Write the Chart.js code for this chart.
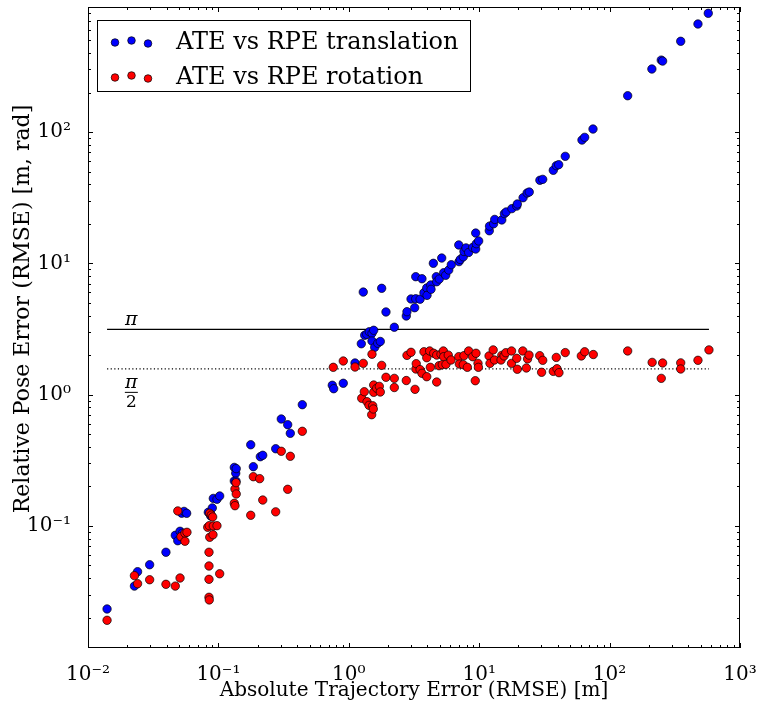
<!DOCTYPE html>
<html>
<head>
<meta charset="utf-8">
<script src="https://cdn.jsdelivr.net/npm/chart.js@4.4.1/dist/chart.umd.min.js"></script>
<style>
  html, body { margin: 0; padding: 0; background: #fff; }
</style>
</head>
<body>
<canvas id="chart" width="758" height="706"></canvas>
<script>
// ATE vs RPE (translation): x = ATE [m], y = RPE [m]
const transAte = [0.0140, 0.0227, 0.0240, 0.0297, 0.0396, 0.0467, 0.0488, 0.0508, 0.0523, 0.0528, 0.0545, 0.0571,
  0.0837, 0.0873, 0.0898, 0.0914, 0.0975, 0.1023, 0.1324, 0.1324, 0.1358, 0.1365, 0.137, 0.177, 0.1853, 0.2096,
  0.2188, 0.275, 0.3036, 0.340, 0.356, 0.440, 0.747, 0.766, 0.907, 1.116, 1.247, 1.291, 1.324, 1.371, 1.436,
  1.506, 1.506, 1.552, 1.580, 1.666, 1.744, 1.787, 1.928, 2.234, 2.76, 2.793, 3.00, 3.20, 3.26, 3.26, 3.52,
  3.64, 3.77, 3.96, 3.98, 4.25, 4.27, 4.45, 4.69, 4.72, 4.94, 5.16, 5.34, 5.53, 5.84, 6.11, 6.97, 7.00, 7.16,
  7.55, 7.64, 7.92, 8.30, 8.91, 9.40, 9.40, 9.50, 9.91, 11.95, 12.0, 12.9, 13.15, 14.9, 15.6, 16.1, 17.8, 19.4,
  19.6, 21.7, 23.3, 24.2, 29.2, 30.7, 37.0, 39.0, 40.7, 45.7, 61.4, 64.4, 74.6, 137.6, 211, 249, 255, 351, 476, 571];
const transRpe = [0.0233, 0.0348, 0.0448, 0.0506, 0.0630, 0.0848, 0.0771, 0.0910, 0.125, 0.0879, 0.129, 0.1247,
  0.127, 0.119, 0.137, 0.162, 0.1595, 0.169, 0.279, 0.220, 0.252, 0.219, 0.273, 0.415, 0.2825, 0.3365,
  0.345, 0.387, 0.652, 0.590, 0.507, 0.838, 1.178, 1.109, 1.22, 1.741, 2.44, 6.04, 2.83, 2.88, 3.01,
  2.93, 2.56, 3.09, 2.29, 2.46, 2.54, 6.45, 4.26, 3.26, 3.97, 4.28, 5.35, 4.59, 5.37, 7.91, 5.33,
  7.63, 5.97, 6.49, 5.70, 6.84, 6.34, 10.0, 7.91, 7.24, 7.59, 10.97, 8.48, 8.10, 8.89, 9.76, 13.8, 10.3, 10.7,
  11.2, 12.3, 13.1, 12.1, 13.2, 12.85, 17.0, 14.1, 14.8, 17.7, 19.2, 20.0, 21.6, 21.4, 23.9, 24.6, 26.1, 27.3,
  28.3, 31.6, 34.3, 34.9, 42.9, 43.6, 51.1, 55.4, 56.4, 65.3, 86.9, 91.1, 105.4, 189, 302, 353, 347, 491, 665, 802];

// ATE vs RPE (rotation): x = ATE [m], y = RPE [rad]
const rotAte = [0.0140, 0.0227, 0.0240, 0.0297, 0.0396, 0.0467, 0.0488, 0.0508, 0.0516, 0.0554, 0.0554, 0.0574,
  0.0828, 0.0847, 0.0847, 0.0847, 0.0847, 0.0851, 0.0851, 0.0858, 0.0858, 0.0882, 0.0904, 0.0909, 0.0914, 0.0975,
  0.1023, 0.1324, 0.134, 0.134, 0.1365, 0.137, 0.177, 0.1853, 0.2073, 0.2188, 0.275, 0.3036, 0.340, 0.356, 0.440,
  0.760, 0.907, 1.116, 1.256, 1.291, 1.315, 1.379, 1.429, 1.498, 1.506, 1.525, 1.541, 1.552, 1.552, 1.637, 1.714,
  1.744, 1.787, 1.928, 2.234, 2.234, 2.76, 2.793, 3.00, 3.22, 3.27, 3.29, 3.52, 3.64, 3.77, 3.96, 3.96, 4.17,
  4.22, 4.48, 4.72, 4.72, 4.92, 5.09, 5.21, 5.31, 5.34, 5.56, 5.79, 6.08, 6.97, 7.04, 7.55, 7.64, 8.11, 8.30,
  8.91, 9.33, 9.45, 9.79, 9.86, 11.9, 12.1, 12.8, 13.1, 14.9, 14.7, 15.5, 16.0, 17.7, 17.7, 19.4, 19.6, 21.6,
  23.0, 23.5, 24.1, 29.1, 30.1, 30.7, 37.0, 39.0, 39.5, 40.9, 45.7, 60.7, 64.4, 75.0, 137.6, 212, 249, 255,
  351, 351, 476, 578];
const rotRpe = [0.0191, 0.0418, 0.0363, 0.0389, 0.0359, 0.0348, 0.130, 0.0401, 0.0828, 0.0879, 0.0764, 0.0894,
  0.0976, 0.0630, 0.0495, 0.0392, 0.0286, 0.0273, 0.1004, 0.0819, 0.1247, 0.121, 0.117, 0.0857, 0.0999, 0.1004,
  0.0432, 0.1486, 0.191, 0.1425, 0.2134, 0.175, 0.1205, 0.237, 0.229, 0.1574, 0.128, 0.370, 0.190, 0.339, 0.5255,
  1.614, 1.803, 1.622, 0.937, 1.730, 1.052, 0.883, 0.829, 0.703, 2.03, 0.822, 0.777, 1.183, 1.041, 1.117, 1.156,
  1.047, 1.67, 1.355, 1.33, 1.132, 1.28, 1.99, 2.10, 1.097, 1.567, 1.72, 1.55, 1.453, 2.12, 1.369, 1.91, 2.15,
  1.614, 2.065, 1.247, 2.00, 1.66, 2.03, 1.69, 2.15, 1.945, 1.70, 2.00, 1.835, 1.945, 1.71, 1.69, 1.98, 1.614, 2.15,
  1.945, 1.276, 2.065, 1.73, 1.614, 1.97, 1.73, 2.19, 1.835, 1.99, 1.835, 1.97, 2.085, 2.15, 1.73, 1.89, 1.56, 2.15,
  1.595, 1.87, 2.00, 1.98, 1.479, 1.825, 1.503, 1.92, 1.575, 1.469, 2.09, 1.97, 2.12, 2.02, 2.15, 1.76, 1.33, 1.741,
  1.745, 1.567, 1.825, 2.19];

const legendLabels = ['ATE vs RPE translation', 'ATE vs RPE rotation'];
const xTitle = 'Absolute Trajectory Error (RMSE) [m]';
const yTitle = 'Relative Pose Error (RMSE) [m, rad]';

const SERIF = "'DejaVu Serif', serif";
const SUP = { '-': '\u207B', '0': '\u2070', '1': '\u00B9', '2': '\u00B2', '3': '\u00B3',
  '4': '\u2074', '5': '\u2075', '6': '\u2076', '7': '\u2077', '8': '\u2078', '9': '\u2079' };

function decadeLabel(v) {
  const e = Math.log10(v);
  const r = Math.round(e);
  if (Math.abs(e - r) > 1e-6) return '';
  return '10' + String(r).split('').map(c => SUP[c]).join('');
}

const xMin = Math.min(...transAte, ...rotAte);
const xMax = Math.max(...transAte, ...rotAte);

// frame, inward ticks, legend, pi labels, y title
const decorPlugin = {
  id: 'decor',
  afterDraw(chart) {
    const { ctx, chartArea: a, scales: { x, y } } = chart;
    ctx.save();
    ctx.strokeStyle = '#000';
    ctx.lineWidth = 1;
    ctx.strokeRect(a.left + 0.5, a.top + 0.5, a.right - a.left - 1, a.bottom - a.top - 1);

    for (let e = -3; e <= 3; e++) {
      for (let m = 1; m < 10; m++) {
        const v = m * Math.pow(10, e);
        const len = m === 1 ? 5 : 3;
        if (v >= x.min && v <= x.max) {
          const px = Math.round(x.getPixelForValue(v)) + 0.5;
          ctx.beginPath();
          ctx.moveTo(px, a.bottom); ctx.lineTo(px, a.bottom - len);
          ctx.moveTo(px, a.top); ctx.lineTo(px, a.top + len);
          ctx.stroke();
        }
        if (v >= y.min && v <= y.max) {
          const py = Math.round(y.getPixelForValue(v)) + 0.5;
          ctx.beginPath();
          ctx.moveTo(a.left, py); ctx.lineTo(a.left + len, py);
          ctx.moveTo(a.right, py); ctx.lineTo(a.right - len, py);
          ctx.stroke();
        }
      }
    }

    // pi labels
    ctx.fillStyle = '#000';
    ctx.textAlign = 'center';
    ctx.textBaseline = 'alphabetic';
    const lx = x.getPixelForValue(0.0215);
    const piY = y.getPixelForValue(Math.PI);
    ctx.font = 'italic 19px ' + SERIF;
    ctx.fillText('\u03C0', lx, piY - 4);
    const halfY = y.getPixelForValue(Math.PI / 2);
    ctx.fillText('\u03C0', lx, halfY + 19);
    ctx.beginPath();
    ctx.moveTo(lx - 6.5, halfY + 23.5); ctx.lineTo(lx + 6.5, halfY + 23.5);
    ctx.stroke();
    ctx.font = '17px ' + SERIF;
    ctx.fillText('2', lx, halfY + 38);

    // y title
    ctx.save();
    ctx.translate(23, 309);
    ctx.rotate(-Math.PI / 2);
    ctx.font = '22px ' + SERIF;
    ctx.textBaseline = 'middle';
    ctx.fillText(yTitle, 0, 0);
    ctx.restore();

    // legend
    ctx.fillStyle = '#fff';
    ctx.fillRect(97.5, 20.5, 373, 71);
    ctx.strokeRect(97.5, 20.5, 373, 71);
    const colors = ['#0000ff', '#ff0000'];
    const rowY = [42, 77];
    const offs = [0.5, -1.5, 1.5];
    const dotX = [115, 131.5, 148];
    rowY.forEach((ry, i) => {
      dotX.forEach((dx, k) => {
        ctx.beginPath();
        ctx.arc(dx, ry + offs[k], 3.8, 0, Math.PI * 2);
        ctx.fillStyle = colors[i];
        ctx.fill();
        ctx.lineWidth = 0.7;
        ctx.stroke();
      });
      ctx.fillStyle = '#000';
      ctx.textAlign = 'left';
      ctx.font = '24px ' + SERIF;
      ctx.fillText(legendLabels[i], 176, ry + 7);
    });
    ctx.restore();
  }
};

new Chart(document.getElementById('chart'), {
  type: 'scatter',
  data: {
    datasets: [
      {
        label: legendLabels[1],
        data: rotAte.map((v, i) => ({ x: v, y: rotRpe[i] })),
        backgroundColor: '#ff0000', borderColor: '#000', borderWidth: 0.7,
        pointRadius: 4.2, order: 0
      },
      {
        label: legendLabels[0],
        data: transAte.map((v, i) => ({ x: v, y: transRpe[i] })),
        backgroundColor: '#0000ff', borderColor: '#000', borderWidth: 0.7,
        pointRadius: 4.2, order: 1
      },
      {
        type: 'line', label: 'pi',
        data: [{ x: xMin, y: Math.PI }, { x: xMax, y: Math.PI }],
        borderColor: '#000', borderWidth: 1.4, pointRadius: 0, order: 2
      },
      {
        type: 'line', label: 'pi/2',
        data: [{ x: xMin, y: Math.PI / 2 }, { x: xMax, y: Math.PI / 2 }],
        borderColor: '#000', borderWidth: 1.2, borderDash: [1.2, 2.4], pointRadius: 0, order: 2
      }
    ]
  },
  options: {
    responsive: false,
    animation: false,
    devicePixelRatio: 1,
    layout: { padding: { left: 0, right: 18, top: 7, bottom: 0 } },
    plugins: { legend: { display: false }, tooltip: { enabled: false } },
    scales: {
      x: {
        type: 'logarithmic', min: 0.01, max: 1000,
        grid: { display: false }, border: { display: false },
        ticks: { autoSkip: false, maxRotation: 0, padding: 7, color: '#000',
          font: { family: SERIF, size: 20 }, callback: decadeLabel },
        title: { display: true, text: xTitle, color: '#000',
          font: { family: SERIF, size: 20 }, padding: { top: 0, bottom: 3 } },
        afterFit: s => { s.height = 58; s.paddingLeft = 0; s.paddingRight = 0; }
      },
      y: {
        type: 'logarithmic', min: 0.01175, max: 896,
        grid: { display: false }, border: { display: false },
        ticks: { autoSkip: false, padding: 9, color: '#000',
          font: { family: SERIF, size: 20 }, callback: decadeLabel },
        afterFit: s => { s.width = 88; s.paddingTop = 0; s.paddingBottom = 0; }
      }
    }
  },
  plugins: [decorPlugin]
});
</script>
</body>
</html>
